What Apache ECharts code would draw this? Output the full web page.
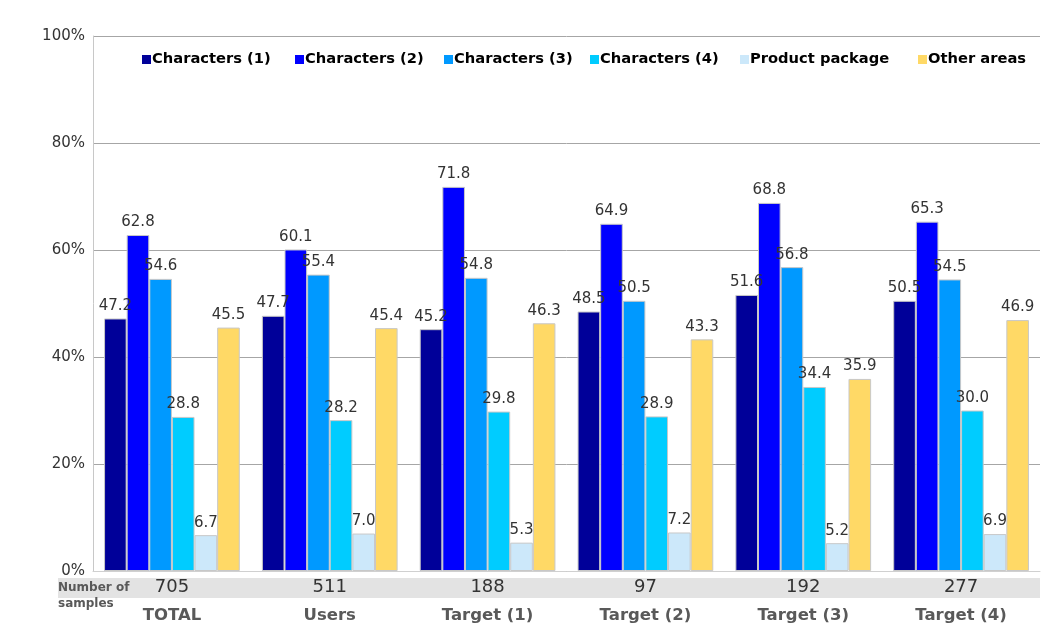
<!DOCTYPE html>
<html><head><meta charset="utf-8">
<script src="https://cdn.jsdelivr.net/npm/echarts@6/dist/echarts.min.js"></script>
<style>html,body{margin:0;padding:0;background:#fff}#c{width:1060px;height:638px}</style>
</head><body><div id="c"></div>
<script>
const categories = ['TOTAL', 'Users', 'Target (1)', 'Target (2)', 'Target (3)', 'Target (4)'];
const samples = [705, 511, 188, 97, 192, 277];
const seriesNames = ['Characters (1)', 'Characters (2)', 'Characters (3)', 'Characters (4)', 'Product package', 'Other areas'];
const char1 = [47.2, 47.7, 45.2, 48.5, 51.6, 50.5];
const char2 = [62.8, 60.1, 71.8, 64.9, 68.8, 65.3];
const char3 = [54.6, 55.4, 54.8, 50.5, 56.8, 54.5];
const char4 = [28.8, 28.2, 29.8, 28.9, 34.4, 30.0];
const productPackage = [6.7, 7.0, 5.3, 7.2, 5.2, 6.9];
const otherAreas = [45.5, 45.4, 46.3, 43.3, 35.9, 46.9];
const colors = ['#000099', '#0000FF', '#0099FF', '#00CCFF', '#CCE8FA', '#FFD966'];
const allData = [char1, char2, char3, char4, productPackage, otherAreas];
const legendLeft = [142, 295, 444, 590, 740, 918];

const chart = echarts.init(document.getElementById('c'));
const font = 'DejaVu Sans, Verdana, sans-serif';
chart.setOption({
  animation: false,
  textStyle: { fontFamily: font },
  grid: { left: 93, right: 20, top: 36, bottom: 67 },
  legend: seriesNames.map((n, k) => ({
    left: legendLeft[k], top: 52,
    padding: 0,
    itemWidth: 9, itemHeight: 9,
    icon: 'rect',
    itemStyle: { borderWidth: 0 },
    textStyle: { fontFamily: font, fontWeight: 'bold', fontSize: 14.7, color: '#000', padding: [0, 0, 0, -4] },
    data: [n]
  })),
  graphic: [
    { type: 'rect', z: -10, shape: { x: 58, y: 578, width: 982, height: 20 }, style: { fill: '#e3e3e3' } },
    { type: 'text', z: 10, left: 58, top: 580, style: { text: 'Number of\nsamples', fontFamily: font, fontWeight: 'bold', fontSize: 12, lineHeight: 16, fill: '#595959' } }
  ],
  xAxis: {
    type: 'category',
    data: categories,
    axisLine: { lineStyle: { color: '#d0d0d0' } },
    axisTick: { show: false },
    axisLabel: {
      margin: 5,
      formatter: function (v, i) { return '{n|' + samples[i] + '}\n{c|' + v + '}'; },
      rich: {
        n: { fontFamily: font, fontSize: 18, color: '#333', lineHeight: 22 },
        c: { fontFamily: font, fontSize: 16.5, fontWeight: 'bold', color: '#595959', lineHeight: 36 }
      }
    }
  },
  yAxis: {
    type: 'value', min: 0, max: 100, interval: 20,
    axisLine: { show: true, lineStyle: { color: '#c8c8c8' } },
    axisTick: { show: false },
    splitLine: { lineStyle: { color: '#a6a6a6' } },
    axisLabel: { formatter: '{value}%', fontSize: 15, color: '#333', margin: 8 }
  },
  series: seriesNames.map((name, k) => ({
    name: name,
    type: 'bar',
    data: allData[k],
    barGap: '0%',
    barCategoryGap: '14%',
    itemStyle: { color: colors[k], borderColor: '#c8c8c8', borderWidth: 1 },
    label: {
      show: true, position: 'top', distance: 5,
      fontFamily: font, fontSize: 15, color: '#333',
      formatter: p => p.value.toFixed(1)
    }
  }))
});
</script></body></html>
